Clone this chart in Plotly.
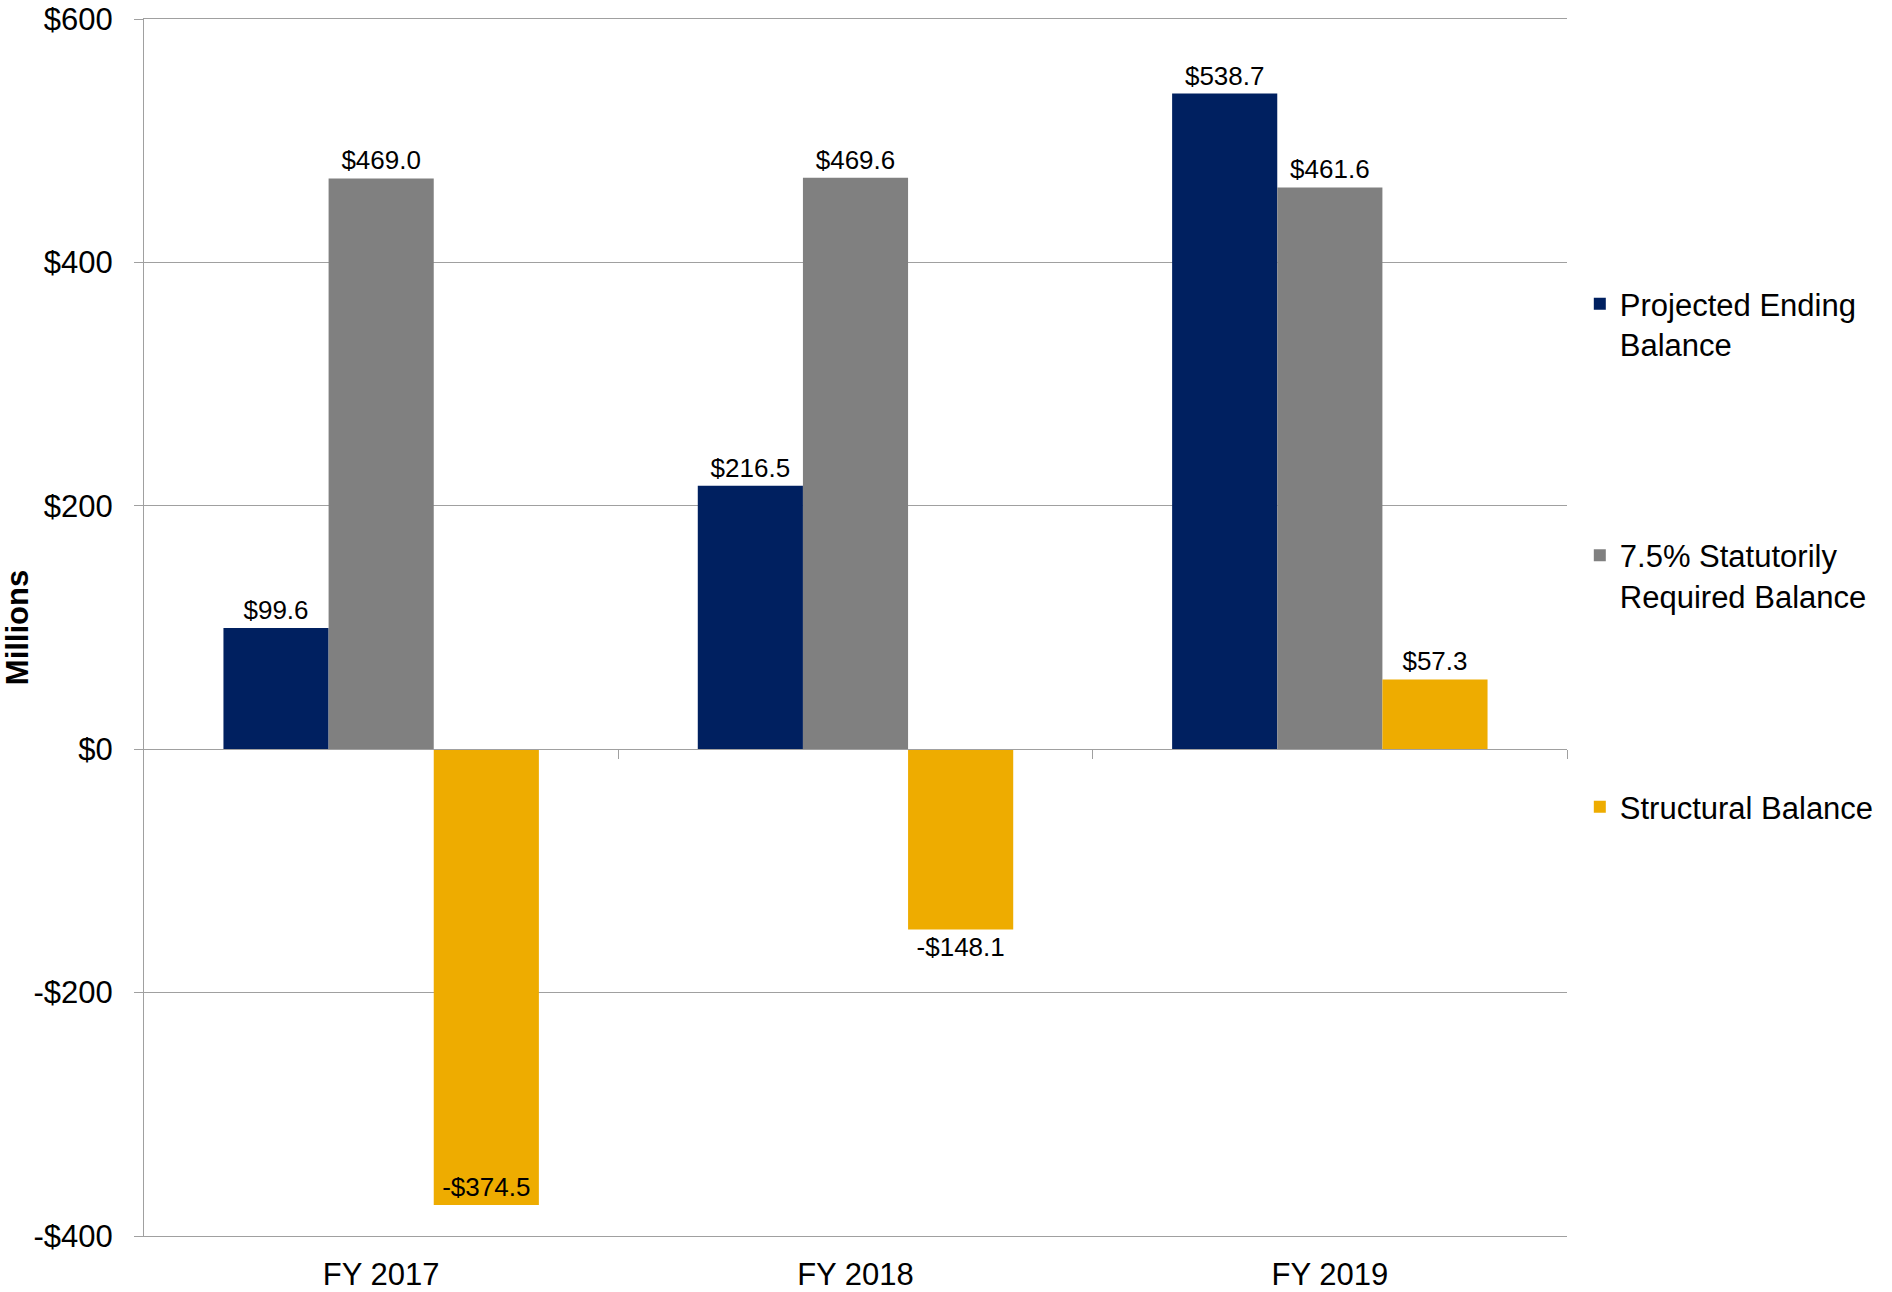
import plotly.graph_objects as go

categories = ["FY 2017", "FY 2018", "FY 2019"]
projected_ending = [99.6, 216.5, 538.7]
statutory_required = [469.0, 469.6, 461.6]
structural = [-374.5, -148.1, 57.3]

series_names = ["Projected Ending<br>Balance", "7.5% Statutorily<br>Required Balance", "Structural Balance"]
series_colors = ["#002060", "#808080", "#EEAC00"]

y_min, y_max = -400, 600
y_tickvals = [-400, -200, 0, 200, 400, 600]
y_ticktext = ["-$400", "-$200", "$0", "$200", "$400", "$600"]


def fmt(v):
    return ("-$%.1f" % abs(v)) if v < 0 else ("$%.1f" % v)


FONT = "Arial, Liberation Sans, sans-serif"
GRID = "#A0A0A0"
fig = go.Figure()
all_series = [projected_ending, statutory_required, structural]
for i, (name, vals, col) in enumerate(zip(series_names, all_series, series_colors)):
    if i == 2:
        pos = ["inside" if v < -300 else "outside" for v in vals]
    else:
        pos = "outside"
    fig.add_trace(go.Bar(
        x=categories, y=vals, name=name, marker_color=col, marker_line_width=0,
        text=[fmt(v) for v in vals], textposition=pos, insidetextanchor="end",
        textfont=dict(size=26, color="#000000", family=FONT),
        outsidetextfont=dict(size=26, color="#000000", family=FONT),
        insidetextfont=dict(size=26, color="#000000", family=FONT),
        cliponaxis=False, legendgroup="g%d" % i,
    ))

# empty helper trace so the zero-line axis (with category-boundary ticks) is drawn
fig.add_trace(go.Scatter(x=[], y=[], xaxis="x2", yaxis="y", showlegend=False, hoverinfo="skip"))

zero_pos = (0 - y_min) / (y_max - y_min)

fig.update_layout(
    width=1892, height=1292,
    margin=dict(l=144, r=325, t=19, b=56, autoexpand=False),
    paper_bgcolor="white", plot_bgcolor="white",
    font=dict(family=FONT, size=31, color="#000000"),
    barmode="group", bargap=0.335, bargroupgap=0,
    showlegend=True,
    legend=dict(x=1.009, xanchor="left", y=0.788, yanchor="top",
                font=dict(size=31, family=FONT, color="#000000"),
                tracegroupgap=168, valign="top", itemwidth=30,
                bgcolor="rgba(0,0,0,0)", traceorder="grouped"),
    xaxis=dict(showline=True, mirror=True, linecolor=GRID, linewidth=1,
               ticks="", showgrid=False, automargin=False,
               tickfont=dict(size=31, family=FONT), ticklabelstandoff=11),
    xaxis2=dict(overlaying="x", anchor="free", position=zero_pos, side="bottom",
                range=[-0.5, 2.5], showline=True, linecolor=GRID, linewidth=1,
                ticks="outside", ticklen=9, tickcolor=GRID, tickwidth=1,
                tickvals=[0.5, 1.5, 2.5], showticklabels=False, showgrid=False,
                zeroline=False, automargin=False),
    yaxis=dict(range=[y_min, y_max], tickvals=y_tickvals, ticktext=y_ticktext,
               showgrid=True, gridcolor=GRID, gridwidth=1,
               showline=True, linecolor=GRID, linewidth=1,
               ticks="outside", ticklen=9, tickcolor=GRID,
               zeroline=False, automargin=False,
               tickfont=dict(size=31, family=FONT), ticklabelstandoff=15,
               title=dict(text="<b>Millions</b>", font=dict(size=31, family=FONT), standoff=5)),
)

fig.write_html("out.html")
